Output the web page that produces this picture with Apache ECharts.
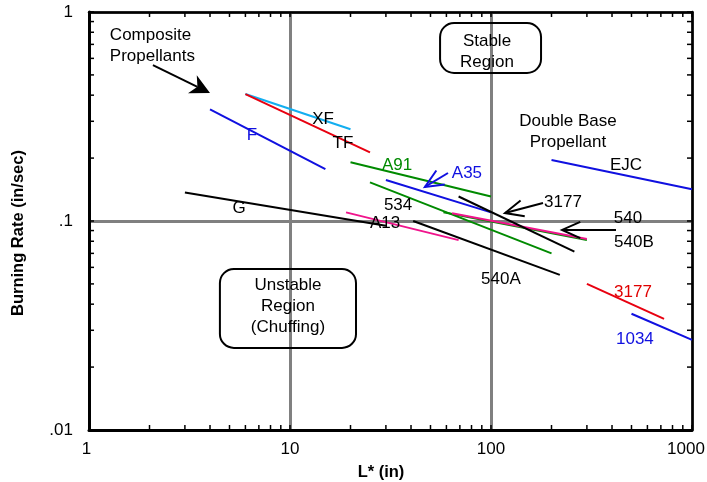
<!DOCTYPE html>
<html><head><meta charset="utf-8">
<script src="https://cdn.jsdelivr.net/npm/echarts@6/dist/echarts.min.js"></script>
<style>html,body{margin:0;padding:0;background:#fff}#c{width:707px;height:482px}</style>
</head><body><div id="c"></div>
<script>
const FONT = '"Liberation Sans", Arial, Helvetica, sans-serif';

// ---- axes ----
const xRange = [1, 1000];
const yRange = [0.01, 1];
const xTickValues = [1, 10, 100, 1000];
const xTickLabels = ['1', '10', '100', '1000'];
const yTickValues = [0.01, 0.1, 1];
const yTickLabels = ['.01', '.1', '1'];
const xMinorTicks = [2,3,4,5,6,7,8,9,20,30,40,50,60,70,80,90,200,300,400,500,600,700,800,900];
const yMinorTicks = [0.02,0.03,0.04,0.05,0.06,0.07,0.08,0.09,0.2,0.3,0.4,0.5,0.6,0.7,0.8,0.9];

// ---- propellant segments [L*, burning rate] ----
const segXF    = [[6, 0.405], [20, 0.275]];
const segTF    = [[6, 0.405], [25, 0.213]];
const segF     = [[4, 0.342], [15, 0.177]];
const segG     = [[3, 0.137], [30, 0.095]];
const segA91   = [[20, 0.191], [100, 0.131]];
const segA35   = [[30, 0.157], [100, 0.110]];
const seg534   = [[25, 0.153], [200, 0.070]];
const segA13   = [[19, 0.110], [69, 0.081]];
const seg540g  = [[58, 0.110], [300, 0.081]];
const seg540m  = [[64, 0.109], [300, 0.082]];
const seg3177k = [[69, 0.131], [260, 0.0713]];
const seg540A  = [[41, 0.100], [220, 0.0552]];
const segEJC   = [[200, 0.196], [1000, 0.142]];
const seg3177r = [[300, 0.050], [726, 0.034]];
const seg1034  = [[500, 0.036], [1000, 0.027]];

// ---- annotation texts ----
const labelTexts  = ['XF','TF','F','G','A91','A35','534','A13','3177','540','540B','540A','3177','1034','EJC',
                     'Double Base\nPropellant','Stable\nRegion','Unstable\nRegion\n(Chuffing)','Composite\nPropellants'];
const labelX      = [14.6, 18.35, 6.47, 5.58, 34.1, 75.9, 34.5, 29.7, 228, 480, 514, 112, 508.6, 520, 469.5, 241.5, 95.5, 9.77, 1.27];
const labelY      = [0.308, 0.236, 0.258, 0.1154, 0.1853, 0.1697, 0.1193, 0.0978, 0.1233, 0.1034, 0.0793, 0.0528, 0.0457, 0.0272, 0.1853, 0.2666, 0.644, 0.0392, 0.688];
const labelColors = ['#000','#000','#1010e0','#000','#008a00','#1010e0','#000','#000','#000','#000','#000','#000','#e00000','#1010e0','#000','#000','#000','#000','#000'];

// ---- boxes and arrows [x1, y1, x2, y2] ----
const boxes  = [[55.8, 0.886, 177.4, 0.5106], [4.48, 0.0589, 21.3, 0.0247]];
const arrowsOpen = [[61.1, 0.1697, 46.9, 0.1455], [181.4, 0.122, 117.4, 0.1092], [418.7, 0.0906, 225.6, 0.0906]];
const arrowOpenColors = ['#1010e0', '#000', '#000'];
const arrowFilled = [[2.08, 0.557, 4.0, 0.41]];

const C = { cyan:'#12aef0', red:'#e80010', blue:'#1010e0', green:'#008a00', pink:'#f0148c', black:'#000' };

function seg(data, color) {
  return { type:'line', data: data, symbol:'none', silent:true, z:3,
    lineStyle:{ color: color, width: 2 } };
}

const chart = echarts.init(document.getElementById('c'), null, {renderer:'canvas'});

const tickData = xMinorTicks.map(v => [v, yRange[0], 0]).concat(yMinorTicks.map(v => [xRange[0], v, 1]));

function renderTick(params, api) {
  const kind = api.value(2);
  const st = { stroke:'#000', lineWidth:1.5 };
  if (kind === 0) {
    const v = api.value(0);
    const b = api.coord([v, yRange[0]]), t = api.coord([v, yRange[1]]);
    return { type:'group', children:[
      { type:'line', shape:{x1:b[0], y1:b[1], x2:b[0], y2:b[1]-5}, style:st },
      { type:'line', shape:{x1:t[0], y1:t[1], x2:t[0], y2:t[1]+5}, style:st } ] };
  } else {
    const v = api.value(1);
    const l = api.coord([xRange[0], v]), r = api.coord([xRange[1], v]);
    return { type:'group', children:[
      { type:'line', shape:{x1:l[0], y1:l[1], x2:l[0]+5, y2:l[1]}, style:st },
      { type:'line', shape:{x1:r[0], y1:r[1], x2:r[0]-5, y2:r[1]}, style:st } ] };
  }
}

function renderText(params, api) {
  const i = params.dataIndex;
  const p = api.coord([api.value(0), api.value(1)]);
  const left = labelTexts[i].indexOf('Composite') === 0;
  return { type:'text', x:p[0], y:p[1], z2:10,
    style:{ text: labelTexts[i], fill: labelColors[i], fontSize:17, fontFamily: FONT,
      align: left ? 'left' : 'center', verticalAlign:'middle', lineHeight: 21 } };
}

function renderBox(params, api) {
  const a = api.coord([api.value(0), api.value(1)]);
  const b = api.coord([api.value(2), api.value(3)]);
  return { type:'rect', shape:{ x:a[0], y:a[1], width:b[0]-a[0], height:b[1]-a[1], r:14 },
    style:{ fill:'none', stroke:'#000', lineWidth:2 } };
}

function renderOpenArrow(params, api) {
  const p1 = api.coord([api.value(0), api.value(1)]);
  const p2 = api.coord([api.value(2), api.value(3)]);
  const ang = Math.atan2(p1[1]-p2[1], p1[0]-p2[0]);
  const L = 20, a = 24*Math.PI/180;
  const col = arrowOpenColors[params.dataIndex];
  const st = { stroke: col, lineWidth: 2, fill:'none' };
  return { type:'group', children:[
    { type:'line', shape:{x1:p1[0], y1:p1[1], x2:p2[0], y2:p2[1]}, style:st },
    { type:'polyline', shape:{ points:[
      [p2[0]+L*Math.cos(ang+a), p2[1]+L*Math.sin(ang+a)], [p2[0], p2[1]],
      [p2[0]+L*Math.cos(ang-a), p2[1]+L*Math.sin(ang-a)] ] }, style:st } ] };
}

function renderFilledArrow(params, api) {
  const p1 = api.coord([api.value(0), api.value(1)]);
  const p2 = api.coord([api.value(2), api.value(3)]);
  const ang = Math.atan2(p1[1]-p2[1], p1[0]-p2[0]);
  const L = 22, a = 27*Math.PI/180, n = 14;
  const notch = [p2[0]+n*Math.cos(ang), p2[1]+n*Math.sin(ang)];
  return { type:'group', children:[
    { type:'line', shape:{x1:p1[0], y1:p1[1], x2:notch[0], y2:notch[1]}, style:{stroke:'#000', lineWidth:2} },
    { type:'polygon', shape:{ points:[ [p2[0], p2[1]],
      [p2[0]+L*Math.cos(ang+a), p2[1]+L*Math.sin(ang+a)], notch,
      [p2[0]+L*Math.cos(ang-a), p2[1]+L*Math.sin(ang-a)] ] }, style:{ fill:'#000' } } ] };
}

function matchIdx(vals, v) {
  for (let i = 0; i < vals.length; i++) {
    if (Math.abs(Math.log10(v) - Math.log10(vals[i])) < 1e-6) return i;
  }
  return -1;
}
function yFmt(v) { const i = matchIdx(yTickValues, v); return i < 0 ? '' : yTickLabels[i]; }
function xFmt(v) {
  const i = matchIdx(xTickValues, v);
  if (i < 0) return '';
  if (i === 0) return '{first|' + xTickLabels[i] + '}';
  if (i === xTickValues.length - 1) return '{last|' + xTickLabels[i] + '}';
  return xTickLabels[i];
}

const option = {
  animation: false,
  backgroundColor: '#fff',
  grid: { left: 89, right: 15, top: 12, bottom: 52, containLabel: false, outerBoundsMode: 'none' },
  xAxis: [
    { type:'log', logBase:10, min:xRange[0], max:xRange[1], position:'bottom',
      axisLine:{ show:true, lineStyle:{ color:'#000', width:3 } },
      axisTick:{ show:true, inside:true, length:5, lineStyle:{ color:'#000', width:1.5 } },
      axisLabel:{ show:true, margin:11, color:'#000', fontSize:17, fontFamily:FONT, formatter: xFmt,
        hideOverlap:false,
        rich:{ first:{ fontSize:17, fontFamily:FONT, color:'#000', padding:[0,5,0,0] },
               last:{ fontSize:17, fontFamily:FONT, color:'#000', padding:[0,12,0,0] } } },
      splitLine:{ show:true, lineStyle:{ color:'#808080', width:3 } },
      name:'L* (in)', nameLocation:'middle', nameGap:34,
      nameTextStyle:{ color:'#000', fontSize:16.5, fontWeight:'bold', fontFamily:FONT, padding:[0,19,0,0] } },
    { type:'log', logBase:10, min:xRange[0], max:xRange[1], position:'top',
      axisLine:{ show:true, onZero:false, lineStyle:{ color:'#000', width:2.5 } },
      axisTick:{ show:true, inside:true, length:5, lineStyle:{ color:'#000', width:1.5 } },
      axisLabel:{ show:false }, splitLine:{ show:false } }
  ],
  yAxis: [
    { type:'log', logBase:10, min:yRange[0], max:yRange[1], position:'left',
      axisLine:{ show:true, lineStyle:{ color:'#000', width:3 } },
      axisTick:{ show:true, inside:true, length:5, lineStyle:{ color:'#000', width:1.5 } },
      axisLabel:{ show:true, margin:16, color:'#000', fontSize:17, fontFamily:FONT, formatter: yFmt },
      splitLine:{ show:true, lineStyle:{ color:'#808080', width:3 } },
      name:'Burning Rate (in/sec)', nameLocation:'middle', nameGap:62,
      nameTextStyle:{ color:'#000', fontSize:16.5, fontWeight:'bold', fontFamily:FONT, padding:[0,24,0,0] } },
    { type:'log', logBase:10, min:yRange[0], max:yRange[1], position:'right',
      axisLine:{ show:true, onZero:false, lineStyle:{ color:'#000', width:2.5 } },
      axisTick:{ show:true, inside:true, length:5, lineStyle:{ color:'#000', width:1.5 } },
      axisLabel:{ show:false }, splitLine:{ show:false } }
  ],
  series: [
    seg(segXF, C.cyan), seg(segTF, C.red), seg(segF, C.blue), seg(segG, C.black),
    seg(segA91, C.green), seg(segA35, C.blue), seg(seg534, C.green), seg(segA13, C.pink),
    seg(seg540g, C.green), seg(seg540m, C.pink), seg(seg3177k, C.black), seg(seg540A, C.black),
    seg(segEJC, C.blue), seg(seg3177r, C.red), seg(seg1034, C.blue),
    { type:'custom', data: tickData, encode:{x:0, y:1}, renderItem: renderTick, clip:false, silent:true, z:5 },
    { type:'custom', data: labelX.map((x, i) => [x, labelY[i]]), encode:{x:0, y:1}, renderItem: renderText, clip:false, silent:true, z:6 },
    { type:'custom', data: boxes, encode:{x:[0,2], y:[1,3]}, renderItem: renderBox, clip:false, silent:true, z:4 },
    { type:'custom', data: arrowsOpen, encode:{x:[0,2], y:[1,3]}, renderItem: renderOpenArrow, clip:false, silent:true, z:4 },
    { type:'custom', data: arrowFilled, encode:{x:[0,2], y:[1,3]}, renderItem: renderFilledArrow, clip:false, silent:true, z:4 }
  ]
};
chart.setOption(option);
</script>
</body></html>
